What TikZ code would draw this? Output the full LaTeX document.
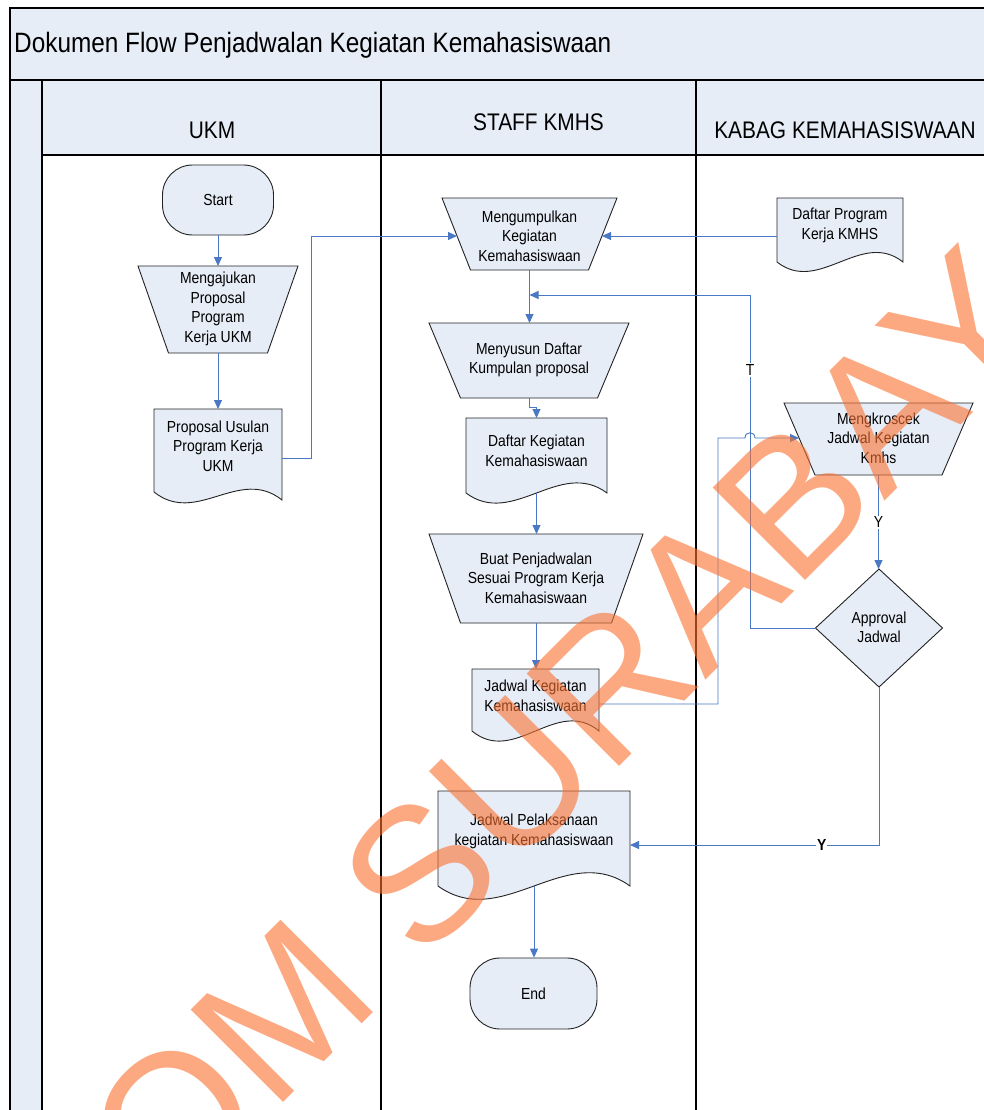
\documentclass[tikz,border=0pt]{standalone}
\usepackage{fontspec}
\setmainfont[FakeStretch=0.87]{Liberation Sans}
\newfontfamily\wmfont{Liberation Sans}
\usetikzlibrary{arrows.meta,calc}
\definecolor{lfill}{RGB}{231,237,247}
\definecolor{lconn}{RGB}{74,120,196}
\definecolor{wmcol}{RGB}{250,113,47}
\definecolor{sline}{RGB}{35,35,35}
% name, cx, top y, top width, bottom width, height
\newcommand\trapshape[6]{%
  \path[shp] ({#2-#4/2},#3) -- ({#2+#4/2},#3) -- ({#2+#5/2},{#3+#6}) -- ({#2-#5/2},{#3+#6}) -- cycle;
  \node[box,minimum width=#4pt,minimum height=#6pt] (#1) at (#2,{#3+#6/2}) {};
}
% name, x left, top y, width, left height, right height, wave
\newcommand\docshape[7]{%
  \path[shp] (#2,{#3+#5}) -- (#2,#3) -- ({#2+#4},#3) -- ({#2+#4},{#3+#6})
    .. controls ({#2+#4*2/3},{#3+#6-#7}) and ({#2+#4/3},{#3+#5+#7}) .. (#2,{#3+#5}) -- cycle;
  \node[box,minimum width=#4pt,minimum height=#5pt] (#1) at ({#2+#4/2},{#3+#5/2}) {};
}
\begin{document}
\begin{tikzpicture}[x=1pt,y=-1pt,
  shp/.style={fill=lfill,draw=sline,line width=0.9pt},
  box/.style={draw=none,inner sep=0pt,outer sep=0pt,rectangle},
  txt/.style={inner sep=0pt,align=center,font=\fontsize{16}{19.5}\selectfont},
  conn/.style={draw=lconn,line width=0.9pt,-{Triangle[length=9pt,width=8pt]}},
  lane/.style={draw=black,line width=1.2pt},
  hdr/.style={font=\fontsize{24}{28}\selectfont,inner sep=0pt},
  lbl/.style={fill=white,inner sep=1pt,font=\fontsize{16}{18}\selectfont}
]
\useasboundingbox (0,0) rectangle (984,1110);
\clip (0,0) rectangle (984,1110);
\fill[white] (0,0) rectangle (984,1110);
% pool and lanes
\path[fill=lfill] (10,8) rectangle (1000,80);
\path[fill=lfill] (10,80) rectangle (42,1120);
\path[fill=lfill] (42,80) rectangle (1000,155);
\draw[lane] (10,1120) -- (10,8) -- (1000,8);
\draw[lane] (10,80) -- (1000,80);
\draw[lane] (42,155) -- (1000,155);
\draw[lane] (42,80) -- (42,1120);
\draw[lane] (381,80) -- (381,1120);
\draw[lane] (696,80) -- (696,1120);
\node[anchor=west,inner sep=0pt,font=\fontsize{28}{32}\selectfont] (title) at (14,45) {Dokumen Flow Penjadwalan Kegiatan Kemahasiswaan};
\node[hdr] (h1) at (212,130) {UKM};
\node[hdr] (h2) at (538.5,122) {STAFF KMHS};
\node[hdr] (h3) at (845,130) {KABAG KEMAHASISWAAN};
% shapes
\node[shp,txt,rounded corners=30pt,minimum width=111pt,minimum height=70pt] (start) at (218,200) {Start};
\trapshape{maju}{218}{266}{160}{99}{87}
\node[txt] (maju-t) at (218,309) {Mengajukan\\Proposal\\Program\\Kerja UKM};
\docshape{prop}{154}{409}{128}{83}{91}{34}
\node[txt] (prop-t) at (218,446) {Proposal Usulan\\Program Kerja\\UKM};
\trapshape{mkum}{529.5}{198}{175}{118}{72}
\node[txt] (mkum-t) at (529.5,236) {Mengumpulkan\\Kegiatan\\Kemahasiswaan};
\docshape{dprog}{777}{198}{126}{64}{64}{33}
\node[txt] (dprog-t) at (840,225.5) {Daftar Program\\Kerja KMHS};
\trapshape{meny}{529}{323}{200}{137}{75}
\node[txt] (meny-t) at (529,360) {Menyusun Daftar\\Kumpulan proposal};
\docshape{dkeg}{466}{418}{141}{75}{75}{35}
\node[txt] (dkeg-t) at (536.5,451) {Daftar Kegiatan\\Kemahasiswaan};
\trapshape{buat}{536}{534}{214}{151}{89}
\node[txt] (buat-t) at (536,578) {Buat Penjadwalan\\Sesuai Program Kerja\\Kemahasiswaan};
\docshape{jkeg}{472}{669}{127}{62}{62}{35}
\node[txt] (jkeg-t) at (535.5,696) {Jadwal Kegiatan\\Kemahasiswaan};
\trapshape{mkro}{878.5}{403}{189}{127}{72}
\node[txt] (mkro-t) at (878.5,438) {Mengkroscek\\Jadwal Kegiatan\\Kmhs};
\path[shp] (879,569) -- (942.5,628) -- (879,687) -- (815.5,628) -- cycle;
\node[box,minimum width=127pt,minimum height=118pt] (appr) at (879,628) {};
\node[txt] (appr-t) at (879,627.5) {Approval\\Jadwal};
\docshape{jpel}{438}{791}{192}{95}{95}{46}
\node[txt] (jpel-t) at (534,831.5) {Jadwal Pelaksanaan\\kegiatan Kemahasiswaan};
\node[shp,txt,rounded corners=30pt,minimum width=127pt,minimum height=71pt] (endn) at (533.5,993.5) {End};
% connectors
\draw[conn] (start.south) -- (start.south |- maju.north);
\draw[conn] (maju.south) -- (maju.south |- prop.north);
\coordinate (c1) at (311,236);
\draw[conn] ($(prop.north east)+(0,49)$) -| (c1) -- ($(mkum.north west)+(15,38)$);
\draw[conn] ($(dprog.north west)+(0,38)$) -- ($(mkum.north east)+(-15,38)$);
\draw[conn] (mkum.south) -- (mkum.south |- meny.north);
\coordinate (tl) at (750,295);
\draw[conn] (appr.west) -| (tl) -- ($(mkum.south)+(0,25)$);
\node[lbl] (tlab) at (750,370) {T};
\draw[conn] (meny.south) -- ++(0,9) -| (dkeg.north);
\draw[conn] (dkeg.south) -- (dkeg.south |- buat.north);
\draw[conn] (buat.south) -- (buat.south |- jkeg.north);
\coordinate (j1) at (718,438);
\draw[conn] ($(jkeg.north east)+(0,35)$) -| (j1) -- ($(j1 -| tl)+(-5,0)$)
   .. controls ($(j1 -| tl)+(-5,-7)$) and ($(j1 -| tl)+(5,-7)$) .. ($(j1 -| tl)+(5,0)$)
   -- ($(mkro.north west)+(15,35)$);
\draw[conn] (mkro.south) -- (mkro.south |- appr.north) node[lbl,midway] (ylab1) {Y};
\draw[conn] (appr.south) |- ($(jpel.north east)+(0,54)$) node[lbl,pos=0.615,font={\fontsize{16}{18}\selectfont\bfseries}] (ylab2) {Y};
\draw[conn] (jpel.south) -- (jpel.south |- endn.north);
% watermark
\node[rotate=45,anchor=base west,inner sep=0pt,text=wmcol,opacity=0.6,text opacity=0.6,font={\wmfont\fontsize{190}{190}\selectfont}] (wm) at (-131,1517) {STIKOM SURABAYA};
\end{tikzpicture}
\end{document}
